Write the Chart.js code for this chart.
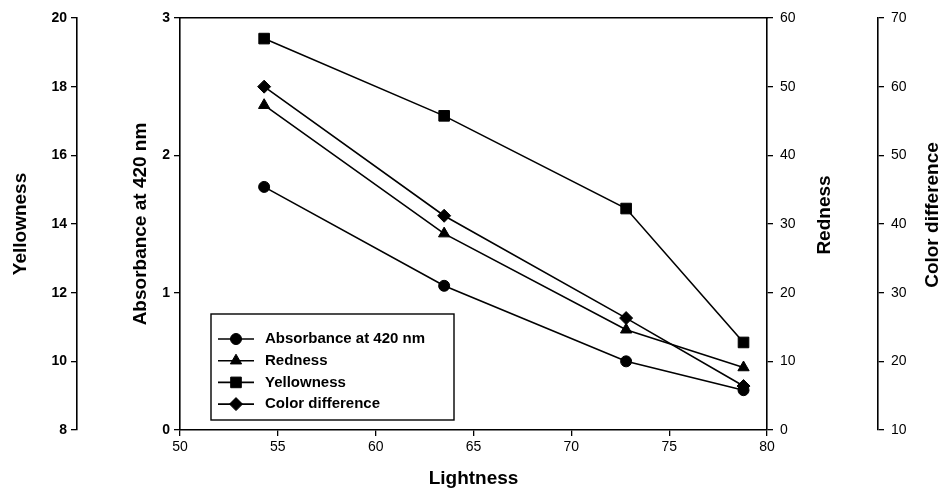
<!DOCTYPE html>
<html>
<head>
<meta charset="utf-8">
<script src="https://cdn.jsdelivr.net/npm/chart.js@4.4.1/dist/chart.umd.min.js"></script>
<style>
  body { margin: 0; background: #fff; }
  #wrap { width: 947px; height: 503px; }
</style>
</head>
<body>
<div id="wrap"><canvas id="colorChart" width="947" height="503"></canvas></div>
<script>
// values
var lightness = [54.3, 63.5, 72.8, 78.8];
var absorbance = [1.77, 1.05, 0.50, 0.29];
var redness = [47.3, 28.6, 14.6, 9.1];
var yellowness = [19.4, 17.15, 14.45, 10.55];
var colorDiff = [60.0, 41.2, 26.3, 16.4];

var seriesNames = ["Absorbance at 420 nm", "Redness", "Yellowness", "Color difference"];

var FONT = '"Liberation Sans", Arial, sans-serif';

function toPoints(ys) {
  return lightness.map(function (x, i) {
    return { x: x, y: ys[i] };
  });
}

function makeSet(label, ys, axis, style, radius) {
  return {
    label: label,
    data: toPoints(ys),
    yAxisID: axis,
    showLine: true,
    borderColor: "#000",
    backgroundColor: "#000",
    borderWidth: 1.6,
    pointStyle: style,
    pointRadius: radius,
    pointBorderWidth: 1,
    pointBackgroundColor: "#000",
    pointBorderColor: "#000",
  };
}

// fixed widths for the stacked y axes
function fixWidth(w) {
  return function (scale) {
    scale.width = w;
  };
}

function yAxis(pos, min, max, step, weight, width) {
  return {
    type: "linear",
    position: pos,
    weight: weight,
    min: min,
    max: max,
    afterFit: fixWidth(width),
    ticks: {
      stepSize: step,
      color: "#000",
      padding: pos === "left" ? 4 : 7,
      font: { family: FONT, size: 14, weight: pos === "left" ? "bold" : "normal" },
    },
    grid: {
      drawOnChartArea: false,
      color: "#000",
      lineWidth: 1.3,
      tickLength: 6,
    },
    border: { color: "#000", width: 1.6 },
  };
}

var boxLegend = {
  id: "boxLegend",
  afterDraw: function (chart) {
    var ctx = chart.ctx;
    var area = chart.chartArea;
    var x0 = area.left + 31;
    var y0 = area.top + 296;
    ctx.save();
    ctx.strokeStyle = "#000";
    ctx.lineWidth = 1.4;
    ctx.strokeRect(x0, y0, 243, 106);
    ctx.font = "bold 15px " + FONT;
    ctx.textBaseline = "middle";
    ctx.textAlign = "left";
    chart.data.datasets.forEach(function (ds, i) {
      var cy = y0 + 25 + i * 21.7;
      ctx.strokeStyle = "#000";
      ctx.fillStyle = "#000";
      ctx.lineWidth = 1.6;
      ctx.beginPath();
      ctx.moveTo(x0 + 7, cy);
      ctx.lineTo(x0 + 43, cy);
      ctx.stroke();
      ctx.lineWidth = 1;
      Chart.helpers.drawPoint(ctx, { pointStyle: ds.pointStyle, radius: ds.pointRadius, rotation: 0, borderWidth: 1 }, x0 + 25, cy);
      ctx.fillText(ds.label, x0 + 54, cy);
    });
    ctx.restore();
  },
};

// right-hand titles read bottom to top in the figure
var rightTitles = {
  id: "rightTitles",
  afterDraw: function (chart) {
    var ctx = chart.ctx;
    ctx.save();
    ctx.font = "bold 19px " + FONT;
    ctx.fillStyle = "#000";
    ctx.textAlign = "center";
    ctx.textBaseline = "middle";
    [["yR", "Redness", 53], ["yC", "Color difference", 14]].forEach(function (t) {
      var s = chart.scales[t[0]];
      ctx.save();
      ctx.translate(s.right - t[2], (s.top + s.bottom) / 2 - 9);
      ctx.rotate(-Math.PI / 2);
      ctx.fillText(t[1], 0, 0);
      ctx.restore();
    });
    ctx.restore();
  },
};

var absAxis = yAxis("left", 0, 3, 1, 0, 103);
absAxis.title = { display: true, text: "Absorbance at 420 nm", color: "#000", font: { family: FONT, size: 19, weight: "bold" }, padding: { top: 52, bottom: 0 } };

var yelAxis = yAxis("left", 8, 20, 2, 1, 77);
yelAxis.title = { display: true, text: "Yellowness", color: "#000", font: { family: FONT, size: 19, weight: "bold" }, padding: { top: 9, bottom: 0 } };

var redAxis = yAxis("right", 0, 60, 10, 0, 111);
var cdAxis = yAxis("right", 10, 70, 10, 1, 69);

var ctx = document.getElementById("colorChart").getContext("2d");

var chart = new Chart(ctx, {
  type: "scatter",
  data: {
    datasets: [
      makeSet(seriesNames[0], absorbance, "y", "circle", 5.5),
      makeSet(seriesNames[1], redness, "yR", "triangle", 6.5),
      makeSet(seriesNames[2], yellowness, "yY", "rect", 7.5),
      makeSet(seriesNames[3], colorDiff, "yC", "rectRot", 6.5),
    ],
  },
  options: {
    responsive: false,
    animation: false,
    devicePixelRatio: 1,
    layout: { padding: { top: 18, left: 0, right: 0, bottom: 0 } },
    scales: {
      x: {
        type: "linear",
        position: "bottom",
        min: 50,
        max: 80,
        afterFit: function (scale) {
          scale.height = 73;
        },
        ticks: { stepSize: 5, color: "#000", padding: 3, font: { family: FONT, size: 14 } },
        grid: { drawOnChartArea: false, color: "#000", lineWidth: 1.3, tickLength: 6 },
        border: { color: "#000", width: 1.6 },
        title: {
          display: true,
          text: "Lightness",
          color: "#000",
          font: { family: FONT, size: 19, weight: "bold" },
          padding: { top: 0, bottom: 13 },
        },
      },
      xTop: {
        type: "linear",
        position: "top",
        min: 50,
        max: 80,
        afterFit: function (scale) {
          scale.height = 0;
        },
        ticks: { display: false },
        grid: { display: false, drawTicks: false },
        border: { display: true, color: "#000", width: 1.6 },
      },
      y: absAxis,
      yY: yelAxis,
      yR: redAxis,
      yC: cdAxis,
    },
    plugins: {
      legend: { display: false },
      tooltip: { enabled: false },
    },
  },
  plugins: [boxLegend, rightTitles],
});
</script>
</body>
</html>
